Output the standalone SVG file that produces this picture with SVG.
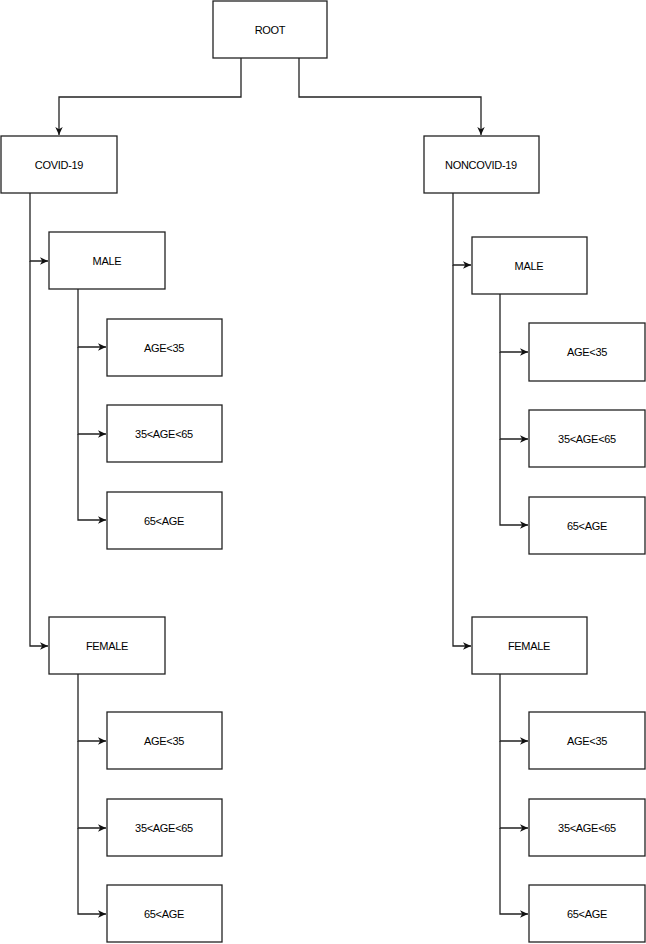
<svg xmlns="http://www.w3.org/2000/svg" width="646" height="944" viewBox="0 0 646 944">
<style>
.box{fill:#fff;stroke:#222;stroke-width:1.3}
.lbl{font-family:"Liberation Sans",Arial,sans-serif;font-size:11px;fill:#000;text-anchor:middle;dominant-baseline:central;letter-spacing:-0.3px}
.edge{fill:none;stroke:#222;stroke-width:1.3}
</style>
<defs>
<marker id="arr" markerWidth="9" markerHeight="9" refX="8" refY="4.5" orient="auto" markerUnits="userSpaceOnUse">
<path d="M0,0.8 L8,4.5 L0,8.2 L2.2,4.5 Z" fill="#111"/>
</marker>
</defs>
<rect width="646" height="944" fill="#fff"/>
<g id="connectors">
<path class="edge" d="M241,58 V97 H59 V135" marker-end="url(#arr)"/>
<path class="edge" d="M299,58 V97 H481 V135" marker-end="url(#arr)"/>
<path class="edge" d="M30,193 V261 H48" marker-end="url(#arr)"/>
<path class="edge" d="M30,261 V646 H48" marker-end="url(#arr)"/>
<path class="edge" d="M78,289 V347 H106" marker-end="url(#arr)"/>
<path class="edge" d="M78,347 V434 H106" marker-end="url(#arr)"/>
<path class="edge" d="M78,434 V520 H106" marker-end="url(#arr)"/>
<path class="edge" d="M78,674 V741 H106" marker-end="url(#arr)"/>
<path class="edge" d="M78,741 V828 H106" marker-end="url(#arr)"/>
<path class="edge" d="M78,828 V914 H106" marker-end="url(#arr)"/>
<path class="edge" d="M453,193 V265 H471" marker-end="url(#arr)"/>
<path class="edge" d="M453,265 V646 H471" marker-end="url(#arr)"/>
<path class="edge" d="M500,294 V352 H528" marker-end="url(#arr)"/>
<path class="edge" d="M500,352 V439 H528" marker-end="url(#arr)"/>
<path class="edge" d="M500,439 V525 H528" marker-end="url(#arr)"/>
<path class="edge" d="M500,674 V741 H528" marker-end="url(#arr)"/>
<path class="edge" d="M500,741 V828 H528" marker-end="url(#arr)"/>
<path class="edge" d="M500,828 V914 H528" marker-end="url(#arr)"/>
</g>
<g id="root"><rect class="box" x="213" y="1" width="114" height="57"/><text class="lbl" x="270" y="30">ROOT</text></g>
<g id="covid"><rect class="box" x="1" y="136" width="116" height="57"/><text class="lbl" x="59" y="165">COVID-19</text></g>
<g id="noncovid"><rect class="box" x="424" y="136" width="115" height="57"/><text class="lbl" x="481" y="165">NONCOVID-19</text></g>
<g id="c_male"><rect class="box" x="49" y="232" width="116" height="57"/><text class="lbl" x="107" y="261">MALE</text></g>
<g id="c_male_a1"><rect class="box" x="107" y="319" width="115" height="57"/><text class="lbl" x="164" y="348">AGE&lt;35</text></g>
<g id="c_male_a2"><rect class="box" x="107" y="405" width="115" height="57"/><text class="lbl" x="164" y="434">35&lt;AGE&lt;65</text></g>
<g id="c_male_a3"><rect class="box" x="107" y="492" width="115" height="57"/><text class="lbl" x="164" y="521">65&lt;AGE</text></g>
<g id="c_female"><rect class="box" x="49" y="617" width="116" height="57"/><text class="lbl" x="107" y="646">FEMALE</text></g>
<g id="c_female_a1"><rect class="box" x="107" y="712" width="115" height="57"/><text class="lbl" x="164" y="741">AGE&lt;35</text></g>
<g id="c_female_a2"><rect class="box" x="107" y="799" width="115" height="57"/><text class="lbl" x="164" y="828">35&lt;AGE&lt;65</text></g>
<g id="c_female_a3"><rect class="box" x="107" y="885" width="115" height="57"/><text class="lbl" x="164" y="914">65&lt;AGE</text></g>
<g id="n_male"><rect class="box" x="472" y="237" width="115" height="57"/><text class="lbl" x="529" y="266">MALE</text></g>
<g id="n_male_a1"><rect class="box" x="529" y="323" width="116" height="58"/><text class="lbl" x="587" y="352">AGE&lt;35</text></g>
<g id="n_male_a2"><rect class="box" x="529" y="410" width="116" height="57"/><text class="lbl" x="587" y="439">35&lt;AGE&lt;65</text></g>
<g id="n_male_a3"><rect class="box" x="529" y="497" width="116" height="57"/><text class="lbl" x="587" y="526">65&lt;AGE</text></g>
<g id="n_female"><rect class="box" x="472" y="617" width="115" height="57"/><text class="lbl" x="529" y="646">FEMALE</text></g>
<g id="n_female_a1"><rect class="box" x="529" y="712" width="116" height="57"/><text class="lbl" x="587" y="741">AGE&lt;35</text></g>
<g id="n_female_a2"><rect class="box" x="529" y="799" width="116" height="57"/><text class="lbl" x="587" y="828">35&lt;AGE&lt;65</text></g>
<g id="n_female_a3"><rect class="box" x="529" y="885" width="116" height="57"/><text class="lbl" x="587" y="914">65&lt;AGE</text></g>
</svg>
